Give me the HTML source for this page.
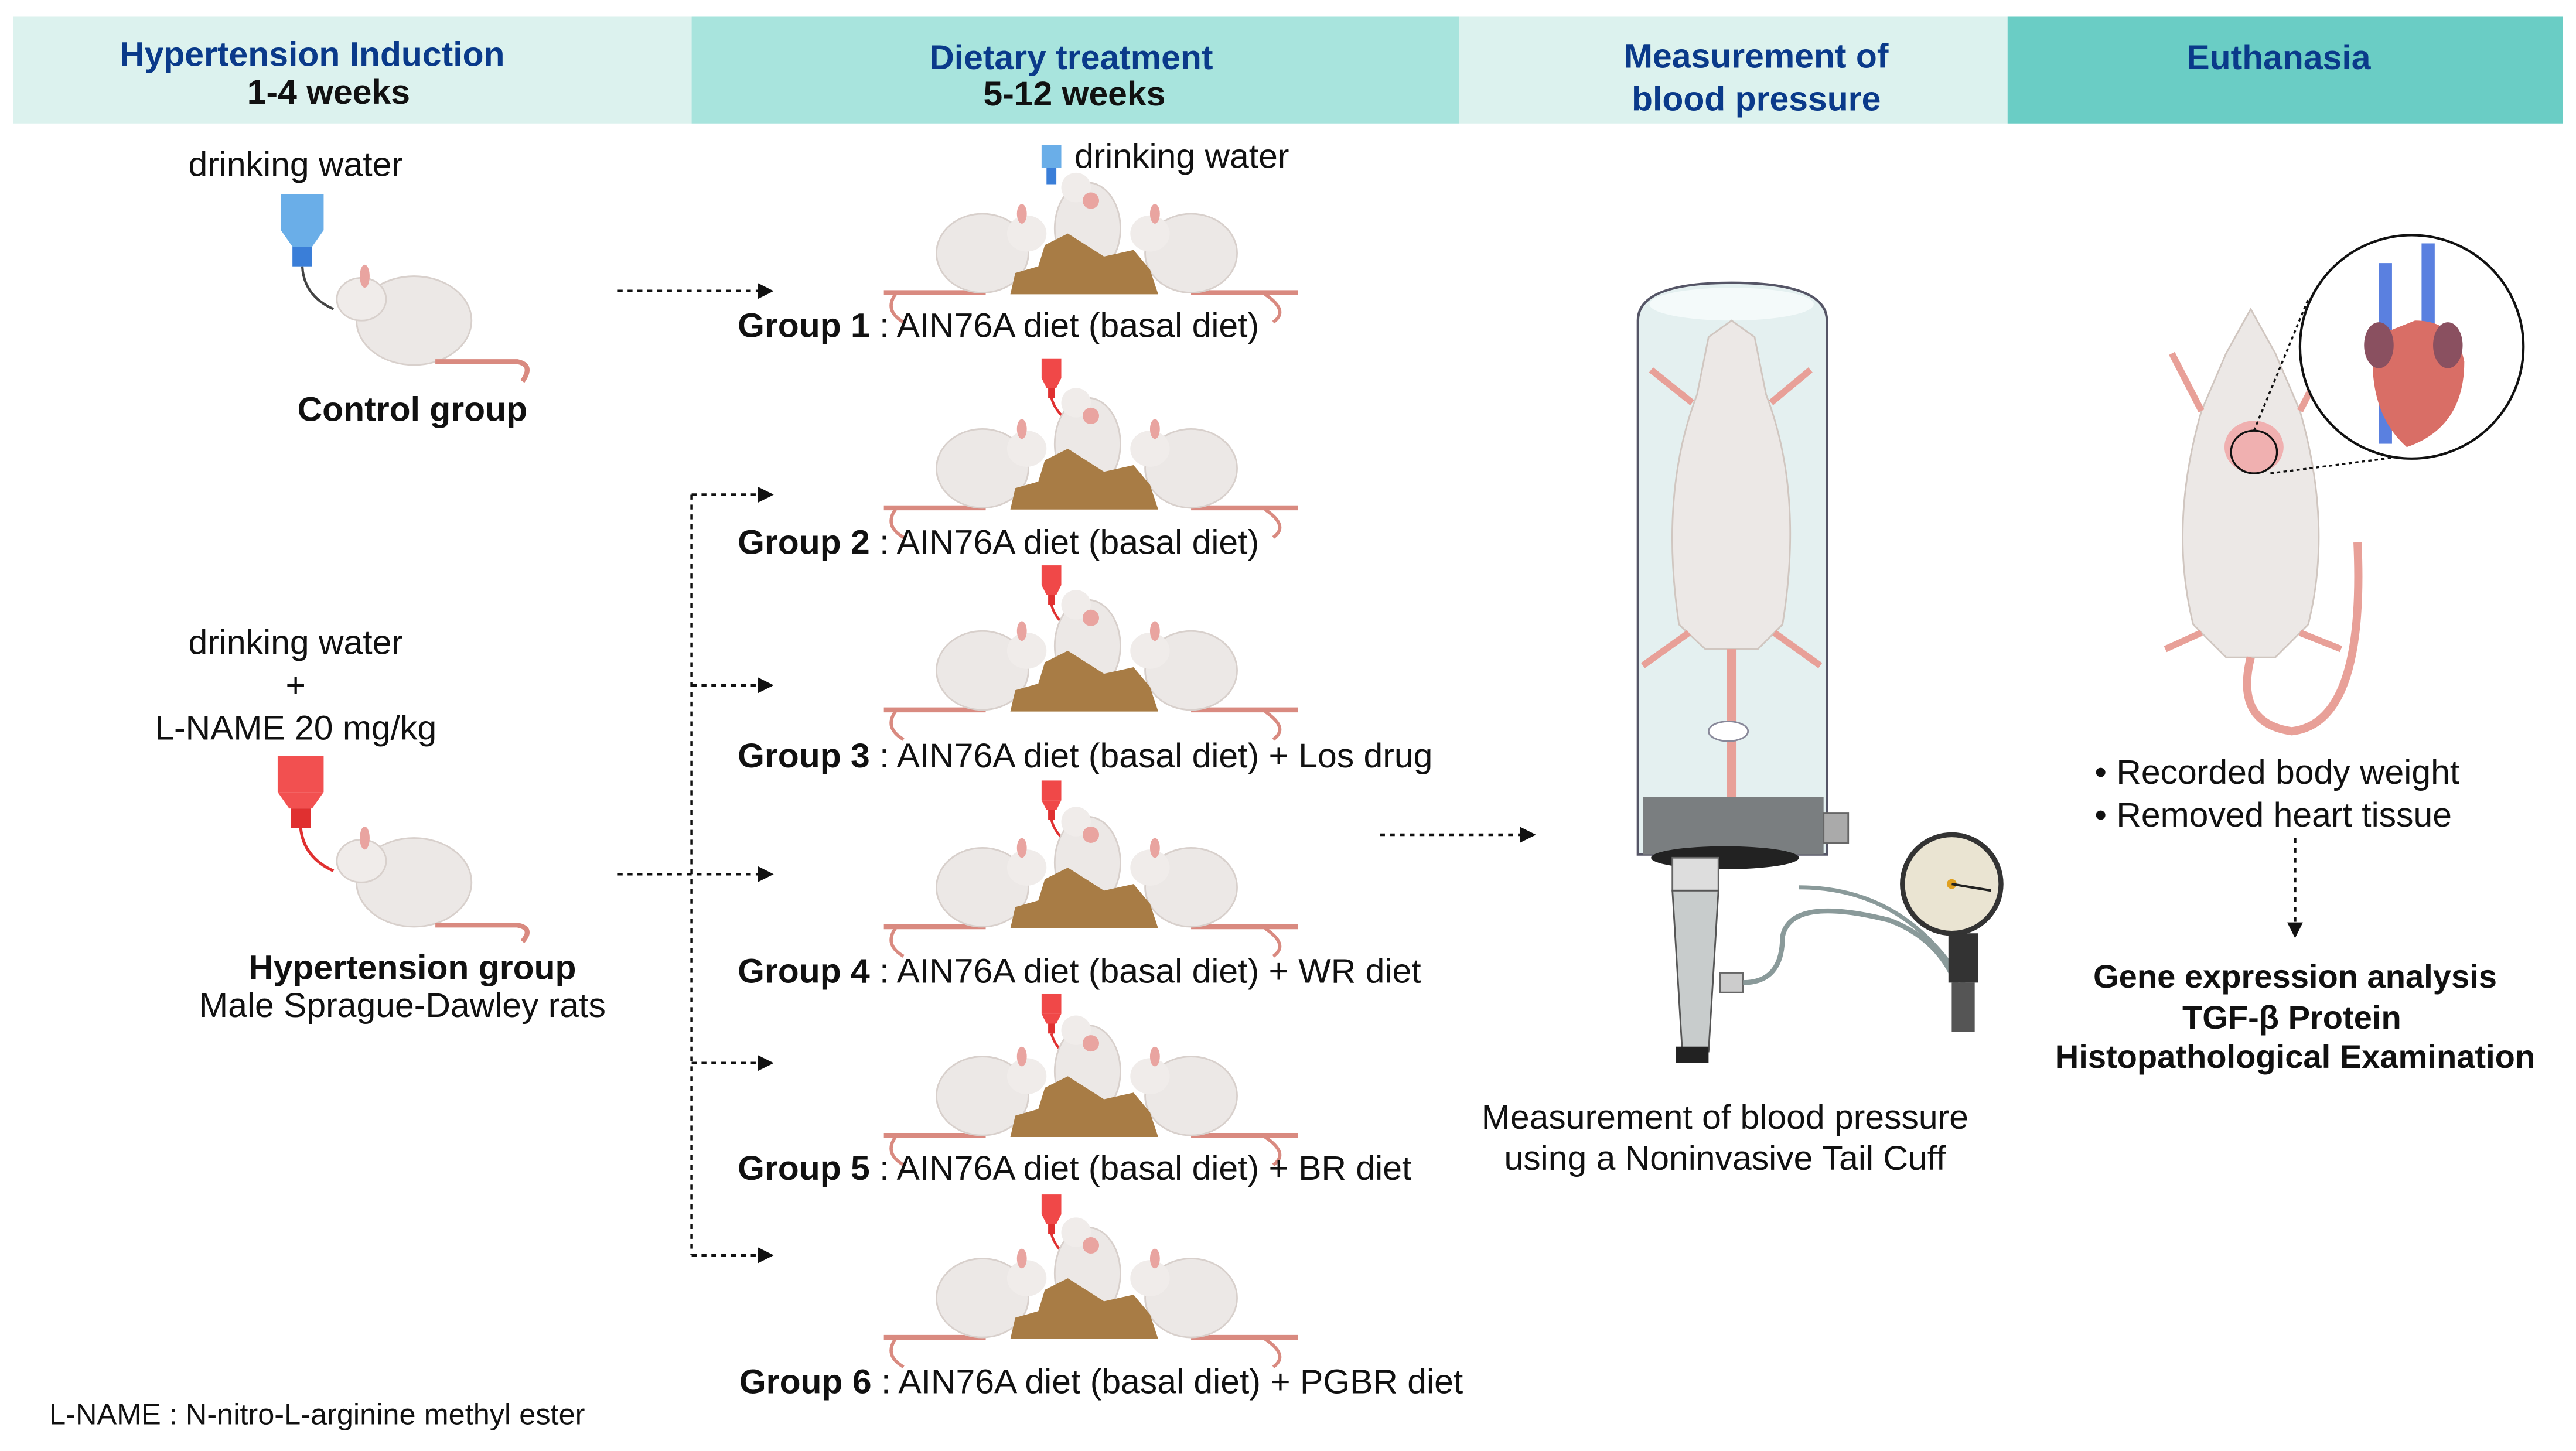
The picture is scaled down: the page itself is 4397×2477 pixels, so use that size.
<!DOCTYPE html>
<html><head><meta charset="utf-8"><style>
html,body{margin:0;padding:0;background:#fff;}
svg{display:block;}
text{font-family:"Liberation Sans",sans-serif;}
</style></head><body>
<svg width="4397" height="2477" viewBox="0 0 1568 883" xmlns="http://www.w3.org/2000/svg">
<defs>
<g id="cluster">
  <!-- tails -->
  <path d="M545 -5 Q538 5 550 12 M770 -5 Q785 5 775 12" stroke="#d98a80" stroke-width="2" fill="none"/>
  <path d="M538 -6 L600 -6 M725 -6 L790 -6" stroke="#d98a80" stroke-width="3"/>
  <!-- left rat -->
  <ellipse cx="598" cy="-30" rx="28" ry="24" fill="#ece8e6" stroke="#d8d0cc"/>
  <ellipse cx="625" cy="-42" rx="12" ry="11" fill="#f0ecea"/>
  <ellipse cx="622" cy="-54" rx="3" ry="6" fill="#e9a4a0"/>
  <!-- right rat -->
  <ellipse cx="725" cy="-30" rx="28" ry="24" fill="#ece8e6" stroke="#d8d0cc"/>
  <ellipse cx="700" cy="-42" rx="12" ry="11" fill="#f0ecea"/>
  <ellipse cx="703" cy="-54" rx="3" ry="6" fill="#e9a4a0"/>
  <!-- middle rat -->
  <ellipse cx="662" cy="-45" rx="20" ry="28" fill="#ece8e6" stroke="#d8d0cc"/>
  <ellipse cx="655" cy="-70" rx="9" ry="9" fill="#f0ecea"/>
  <circle cx="664" cy="-62" r="5" fill="#e9a4a0"/>
  <!-- food -->
  <polygon points="615,-5 618,-18 632,-22 636,-35 650,-42 672,-28 690,-32 700,-20 705,-5" fill="#a87c45"/>
</g>
<g id="bottleR">
  <rect x="-6" y="0" width="12" height="12" fill="#f04848"/>
  <polygon points="-6,12 6,12 3,18 -3,18" fill="#f04848"/>
  <rect x="-2" y="18" width="4" height="6" fill="#e03030"/>
  <path d="M0 24 Q2 32 10 38" stroke="#e03030" stroke-width="1.5" fill="none"/>
</g>
<marker id="ah" viewBox="0 0 10 10" refX="9" refY="5" markerWidth="6" markerHeight="6" orient="auto"><path d="M0 0 L10 5 L0 10 z" fill="#111"/></marker>
</defs>

<!-- header bands -->
<rect x="8" y="10" width="413" height="65" fill="#dcf2ee"/>
<rect x="421" y="10" width="467" height="65" fill="#a8e4dd"/>
<rect x="888" y="10" width="334" height="65" fill="#dcf2ee"/>
<rect x="1222" y="10" width="338" height="65" fill="#6acdc5"/>
<g font-weight="bold" font-size="21" text-anchor="middle" fill="#0a3a8a">
<text x="190" y="40">Hypertension Induction</text>
<text x="200" y="63" fill="#111">1-4 weeks</text>
<text x="652" y="42">Dietary  treatment</text>
<text x="654" y="64" fill="#111">5-12 weeks</text>
<text x="1069" y="41">Measurement of</text>
<text x="1069" y="67">blood pressure</text>
<text x="1387" y="42">Euthanasia</text>
</g>

<!-- left column -->
<text x="180" y="107" font-size="21" text-anchor="middle" fill="#111">drinking water</text>
<rect x="171" y="118" width="26" height="22" fill="#6aaee8"/>
<polygon points="171,140 197,140 190,150 178,150" fill="#6aaee8"/>
<rect x="178" y="150" width="12" height="12" fill="#3a7ed8"/>
<path d="M184 162 Q185 180 203 188" stroke="#444" stroke-width="1.5" fill="none"/>
<ellipse cx="252" cy="195" rx="35" ry="27" fill="#ece8e6" stroke="#d8d0cc"/>
<ellipse cx="220" cy="182" rx="15" ry="13" fill="#f0ecea" stroke="#d8d0cc"/>
<ellipse cx="222" cy="168" rx="3" ry="7" fill="#e9a4a0"/>
<path d="M265 220 L315 220 Q325 222 318 232" stroke="#d98a80" stroke-width="3" fill="none"/>
<text x="251" y="256" font-size="21" font-weight="bold" text-anchor="middle" fill="#111">Control group</text>

<g font-size="21" text-anchor="middle" fill="#111">
<text x="180" y="398">drinking water</text>
<text x="180" y="424">+</text>
<text x="180" y="450">L-NAME 20 mg/kg</text>
</g>
<rect x="169" y="460" width="28" height="22" fill="#f25050"/>
<polygon points="169,482 197,482 190,492 176,492" fill="#f25050"/>
<rect x="177" y="492" width="12" height="12" fill="#e03030"/>
<path d="M183 504 Q185 522 203 530" stroke="#e03030" stroke-width="1.8" fill="none"/>
<ellipse cx="252" cy="537" rx="35" ry="27" fill="#ece8e6" stroke="#d8d0cc"/>
<ellipse cx="220" cy="524" rx="15" ry="13" fill="#f0ecea" stroke="#d8d0cc"/>
<ellipse cx="222" cy="510" rx="3" ry="7" fill="#e9a4a0"/>
<path d="M265 563 L315 563 Q325 565 318 573" stroke="#d98a80" stroke-width="3" fill="none"/>
<text x="251" y="596" font-size="21" font-weight="bold" text-anchor="middle" fill="#111">Hypertension group</text>
<text x="245" y="619" font-size="21" text-anchor="middle" fill="#111">Male Sprague-Dawley rats</text>
<text x="30" y="867" font-size="18" fill="#111">L-NAME : N-nitro-L-arginine methyl ester</text>

<!-- arrows -->
<g stroke="#111" stroke-width="1.6" stroke-dasharray="3,3" fill="none">
<line x1="376" y1="177" x2="470" y2="177" marker-end="url(#ah)"/>
<line x1="376" y1="532" x2="470" y2="532" marker-end="url(#ah)"/>
<line x1="421" y1="301" x2="421" y2="764"/>
<line x1="421" y1="301" x2="470" y2="301" marker-end="url(#ah)"/>
<line x1="421" y1="417" x2="470" y2="417" marker-end="url(#ah)"/>
<line x1="421" y1="647" x2="470" y2="647" marker-end="url(#ah)"/>
<line x1="421" y1="764" x2="470" y2="764" marker-end="url(#ah)"/>
<line x1="840" y1="508" x2="934" y2="508" marker-end="url(#ah)"/>
<line x1="1397" y1="510" x2="1397" y2="570" marker-end="url(#ah)"/>
</g>

<!-- groups -->
<rect x="634" y="88" width="12" height="14" fill="#6aaee8"/>
<rect x="637" y="102" width="6" height="10" fill="#3a7ed8"/>
<text x="654" y="102" font-size="21" fill="#111">drinking water</text>
<use href="#cluster" transform="translate(0,184)"/>
<use href="#bottleR" transform="translate(640,218)"/>
<use href="#cluster" transform="translate(0,315)"/>
<use href="#bottleR" transform="translate(640,344)"/>
<use href="#cluster" transform="translate(0,438)"/>
<use href="#bottleR" transform="translate(640,475)"/>
<use href="#cluster" transform="translate(0,570)"/>
<use href="#bottleR" transform="translate(640,605)"/>
<use href="#cluster" transform="translate(0,697)"/>
<use href="#bottleR" transform="translate(640,727)"/>
<use href="#cluster" transform="translate(0,820)"/>
<g font-size="21" fill="#111">
<text x="449" y="205"><tspan font-weight="bold">Group 1</tspan> : AIN76A diet (basal diet)</text>
<text x="449" y="337"><tspan font-weight="bold">Group 2</tspan> : AIN76A diet (basal diet)</text>
<text x="449" y="467"><tspan font-weight="bold">Group 3</tspan> : AIN76A diet (basal diet) + Los drug</text>
<text x="449" y="598"><tspan font-weight="bold">Group 4</tspan> : AIN76A diet (basal diet) + WR diet</text>
<text x="449" y="718"><tspan font-weight="bold">Group 5</tspan> : AIN76A diet (basal diet) + BR diet</text>
<text x="450" y="848"><tspan font-weight="bold">Group 6</tspan> : AIN76A diet (basal diet) + PGBR diet</text>
</g>

<!-- tail cuff tube -->
<path d="M997 520 L997 195 Q997 172 1054 172 Q1112 172 1112 195 L1112 520 Z" fill="#e4f0f0" stroke="#556" stroke-width="1.5"/>
<ellipse cx="1054" cy="185" rx="50" ry="10" fill="#f4fafa"/>
<path d="M1040 205 L1054 195 L1068 205 L1075 240 Q1098 300 1085 380 L1070 395 L1038 395 L1022 380 Q1010 300 1033 240 Z" fill="#ece8e6" stroke="#d0c6c0"/>
<path d="M1030 245 L1005 225 M1078 245 L1102 225 M1028 385 L1000 405 M1080 385 L1108 405" stroke="#e8a098" stroke-width="4"/>
<path d="M1054 395 L1054 490" stroke="#e8a098" stroke-width="6"/>
<ellipse cx="1052" cy="445" rx="12" ry="6" fill="#fff" stroke="#889"/>
<rect x="1000" y="485" width="110" height="35" fill="#7a7e80"/>
<ellipse cx="1050" cy="522" rx="45" ry="7" fill="#222"/>
<rect x="1110" y="495" width="15" height="18" fill="#aaa" stroke="#666"/>
<rect x="1018" y="522" width="28" height="20" fill="#ddd" stroke="#666"/>
<polygon points="1018,542 1046,542 1040,640 1024,640" fill="#c8cccc" stroke="#555"/>
<rect x="1020" y="637" width="20" height="10" fill="#222"/>
<rect x="1047" y="592" width="14" height="12" fill="#ccc" stroke="#666"/>
<path d="M1061 598 Q1085 598 1085 570 Q1090 545 1150 560 Q1190 575 1196 620" stroke="#8a9a9a" stroke-width="3" fill="none"/>
<path d="M1095 540 Q1160 540 1196 600" stroke="#8a9a9a" stroke-width="2.5" fill="none"/>
<circle cx="1188" cy="538" r="30" fill="#eae4d2" stroke="#333" stroke-width="3"/>
<circle cx="1188" cy="538" r="3" fill="#e0a020"/>
<line x1="1188" y1="538" x2="1212" y2="542" stroke="#222" stroke-width="1.5"/>
<rect x="1186" y="568" width="18" height="30" fill="#333"/>
<rect x="1188" y="598" width="14" height="30" fill="#555"/>
<text x="1050" y="687" font-size="21" text-anchor="middle" fill="#111">Measurement of blood pressure</text>
<text x="1050" y="712" font-size="21" text-anchor="middle" fill="#111">using a Noninvasive Tail Cuff</text>

<!-- euthanasia rat -->
<path d="M1370 188 L1385 215 L1400 250 Q1420 320 1405 380 L1385 400 L1355 400 L1335 380 Q1320 320 1340 250 L1355 215 Z" fill="#ece8e6" stroke="#d0c6c0"/>
<path d="M1340 250 L1322 215 M1400 250 L1418 215 M1340 385 L1318 395 M1400 385 L1425 395" stroke="#e8a098" stroke-width="4"/>
<path d="M1370 400 Q1360 440 1395 445 Q1440 440 1435 330" stroke="#e8a098" stroke-width="5" fill="none"/>
<ellipse cx="1372" cy="272" rx="18" ry="16" fill="#f0b0b0"/>
<ellipse cx="1372" cy="275" rx="14" ry="13" fill="none" stroke="#111" stroke-width="1.2"/>
<circle cx="1468" cy="211" r="68" fill="#fff" stroke="#111" stroke-width="1.5"/>
<rect x="1448" y="160" width="8" height="110" fill="#5a80e0"/>
<rect x="1474" y="148" width="8" height="60" fill="#5a80e0"/>
<path d="M1445 205 Q1440 250 1465 272 Q1500 260 1500 220 Q1495 195 1470 195 Z" fill="#d96e66"/>
<ellipse cx="1448" cy="210" rx="9" ry="14" fill="#8a5060"/>
<ellipse cx="1490" cy="210" rx="9" ry="14" fill="#8a5060"/>
<g stroke="#111" stroke-width="1.2" stroke-dasharray="2,2"><line x1="1372" y1="262" x2="1405" y2="182"/><line x1="1382" y1="288" x2="1460" y2="278"/></g>

<g font-size="21" fill="#111">
<text x="1275" y="477">•  Recorded body weight</text>
<text x="1275" y="503">•  Removed heart tissue</text>
</g>
<g font-size="20" font-weight="bold" text-anchor="middle" fill="#111">
<text x="1397" y="601">Gene expression analysis</text>
<text x="1395" y="626">TGF-β Protein</text>
<text x="1397" y="650">Histopathological Examination</text>
</g>
</svg>
</body></html>
